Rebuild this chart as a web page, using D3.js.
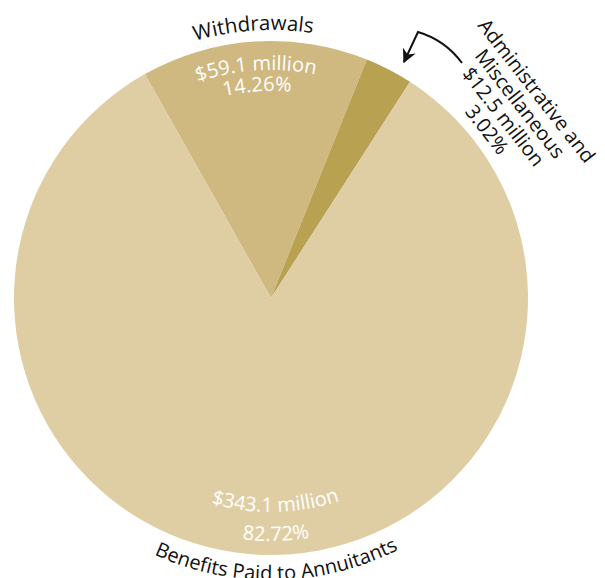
<html>
<head>
<meta charset="UTF-8">
<style>
  body { margin: 0; background: #fff; }
  text { font-family: "Open Sans", "DejaVu Sans", sans-serif; }
</style>
</head>
<body>
<script src="https://cdnjs.cloudflare.com/ajax/libs/d3/7.8.5/d3.min.js"></script>
<script>

// data
var categories = ["Withdrawals", "Administrative and Miscellaneous", "Benefits Paid to Annuitants"];
var amounts = [59.1, 12.5, 343.1];          // $ million
var percents = ["14.26%", "3.02%", "82.72%"];
var colors = ["#cfb980", "#b9a152", "#dfcea4"];

var width = 605, height = 578;
var cx = 271, cy = 298, radius = 257;

var svg = d3.select("body").append("svg")
    .attr("width", width).attr("height", height);

var deg = Math.PI / 180;

var pie = d3.pie()
    .sort(null)
    .startAngle(-29.4 * deg)
    .endAngle(-29.4 * deg + 2 * Math.PI);

var arcs = pie(amounts);

var arc = d3.arc().innerRadius(0).outerRadius(radius);

var g = svg.append("g").attr("transform", "translate(" + cx + "," + cy + ")");

g.selectAll("path.slice")
    .data(arcs)
  .enter().append("path")
    .attr("class", "slice")
    .attr("d", arc)
    .attr("fill", function(d, i) { return colors[i]; });

var defs = svg.append("defs");

// arc path for curved text; top = reads clockwise, bottom = reads counter-clockwise
function pt(r, a) { return [r * Math.sin(a), -r * Math.cos(a)]; }
function textArc(id, r, mid, half, bottom) {
    var a0 = bottom ? mid + half : mid - half,
        a1 = bottom ? mid - half : mid + half,
        p0 = pt(r, a0), p1 = pt(r, a1);
    defs.append("path")
        .attr("id", id)
        .attr("transform", "translate(" + cx + "," + cy + ")")
        .attr("d", "M" + p0 + " A" + r + "," + r + " 0 0 " + (bottom ? 0 : 1) + " " + p1);
}
function curvedLabel(id, r, mid, bottom, txt, fill, size) {
    textArc(id, r, mid, 60 * deg, bottom);
    svg.append("text")
        .attr("font-size", size)
        .attr("fill", fill)
      .append("textPath")
        .attr("href", "#" + id)
        .attr("startOffset", "50%")
        .attr("text-anchor", "middle")
        .text(txt);
}

// Withdrawals
var wMid = (arcs[0].startAngle + arcs[0].endAngle) / 2;
curvedLabel("w0", 268, wMid, false, categories[0], "#111", 20.5);
curvedLabel("w1", 228, wMid, false, "$" + amounts[0] + " million", "#fff", 20);
curvedLabel("w2", 207, wMid, false, percents[0], "#fff", 20);

// Benefits
var bMid = 178.8 * deg;
curvedLabel("b1", 214, bMid, true, "$" + amounts[2] + " million", "#fff", 20);
curvedLabel("b2", 243, bMid, true, percents[2], "#fff", 20);
curvedLabel("b0", 282, bMid, true, categories[2], "#111", 20);

// Administrative and Miscellaneous (rotated block + arrow)
var adm = svg.append("g")
    .attr("transform", "translate(535,92) rotate(52)");
var admLines = ["Administrative and", "Miscellaneous", "$" + amounts[1] + " million", percents[1]];
adm.selectAll("text")
    .data(admLines)
  .enter().append("text")
    .attr("x", 0)
    .attr("y", function(d, i) { return 5 + i * 21; })
    .attr("text-anchor", "middle")
    .attr("font-size", 20)
    .attr("fill", "#111")
    .text(function(d) { return d; });

defs.append("marker")
    .attr("id", "arrow")
    .attr("markerUnits", "userSpaceOnUse")
    .attr("markerWidth", 14).attr("markerHeight", 14)
    .attr("viewBox", "0 0 10 10")
    .attr("refX", 9).attr("refY", 5)
    .attr("orient", "auto")
  .append("path")
    .attr("d", "M0,0 L10,5 L0,10 L3,5 Z")
    .attr("fill", "#111");

svg.append("path")
    .attr("d", "M462,63 Q445,40 418,32 L404,62")
    .attr("fill", "none")
    .attr("stroke", "#111")
    .attr("stroke-width", 2)
    .attr("marker-end", "url(#arrow)");

</script>
</body>
</html>
